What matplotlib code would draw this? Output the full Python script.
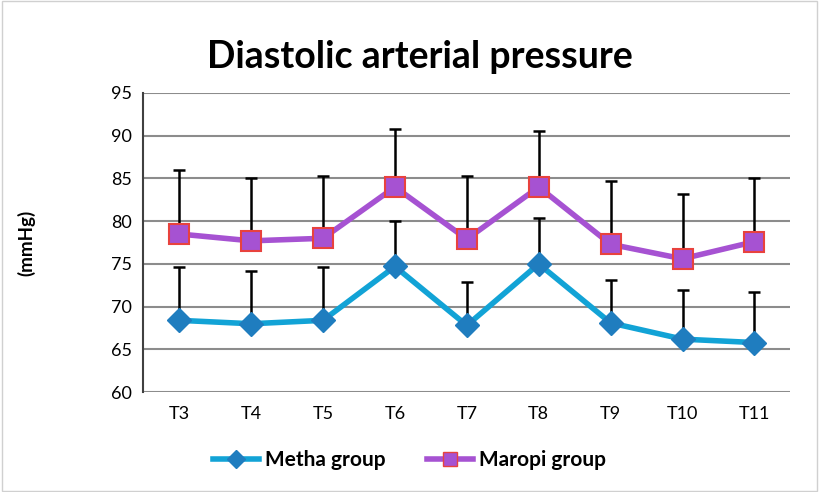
import numpy as np
import matplotlib.pyplot as plt
from matplotlib.lines import Line2D

plt.rcParams['font.family'] = ['Lato', 'DejaVu Sans']

labels = ['T3', 'T4', 'T5', 'T6', 'T7', 'T8', 'T9', 'T10', 'T11']
metha = [68.4, 68.0, 68.4, 74.7, 67.8, 75.0, 68.1, 66.2, 65.8]
metha_sd = [6.2, 6.2, 6.2, 5.3, 5.1, 5.4, 5.0, 5.7, 5.9]
maropi = [78.5, 77.7, 78.0, 84.0, 77.9, 84.0, 77.3, 75.6, 77.6]
maropi_sd = [7.5, 7.3, 7.3, 6.8, 7.4, 6.5, 7.4, 7.6, 7.4]

x = np.arange(len(labels))

fig = plt.figure(figsize=(8.19, 4.92), dpi=100)
ax = fig.add_axes([0.175, 0.203, 0.79, 0.608])

ax.errorbar(x, metha, yerr=[np.zeros(len(x)), metha_sd], fmt='none',
            ecolor='black', elinewidth=1.8, capsize=4, capthick=1.8, zorder=2)
ax.errorbar(x, maropi, yerr=[np.zeros(len(x)), maropi_sd], fmt='none',
            ecolor='black', elinewidth=1.8, capsize=4, capthick=1.8, zorder=2)

ax.plot(x, metha, color='#12A3D6', lw=4, zorder=3)
ax.plot(x, metha, ls='none', marker='D', ms=12, color='#1F7DBF', zorder=4)
ax.plot(x, maropi, color='#A652D2', lw=4, zorder=3)
ax.plot(x, maropi, ls='none', marker='s', ms=14, mfc='#A652D2', mec='#E8423E',
        mew=1.5, zorder=4)

ax.set_ylim(60, 95)
ax.set_yticks(range(60, 96, 5))
ax.set_xlim(-0.5, len(x) - 0.5)
ax.set_xticks(x)
ax.set_xticklabels(labels)
ax.grid(axis='y', color='#8c8c8c', lw=1.5)
ax.set_axisbelow(True)
for s in ['top', 'right', 'bottom']:
    ax.spines[s].set_visible(False)
ax.spines['left'].set_color('#404040')
ax.spines['left'].set_linewidth(1.5)
ax.tick_params(axis='both', length=0, labelsize=13, pad=10)
ax.tick_params(axis='y', pad=8)

ax.set_ylabel('(mmHg)', fontsize=13.5, fontweight='bold')
ax.yaxis.set_label_coords(-0.167, 0.5)
fig.text(0.513, 0.885, 'Diastolic arterial pressure', ha='center', va='center',
         fontsize=27, fontweight='bold')

handles = [
    Line2D([], [], color='#12A3D6', lw=4, marker='D', ms=9, mfc='#1F7DBF', mec='#1F7DBF'),
    Line2D([], [], color='#A652D2', lw=4, marker='s', ms=10, mfc='#A652D2', mec='#E8423E'),
]
fig.legend(handles, ['Metha group', 'Maropi group'], loc='center',
           bbox_to_anchor=(0.5, 0.065), ncol=2, frameon=False, handlelength=2.2,
           handletextpad=0.3, columnspacing=2.0, prop={'weight': 'bold', 'size': 15})

fig.patches.append(plt.Rectangle((0.002, 0.002), 0.996, 0.996, transform=fig.transFigure,
                                 fill=False, ec='#d0d0d0', lw=1))

fig.savefig('out.png', dpi=100)
